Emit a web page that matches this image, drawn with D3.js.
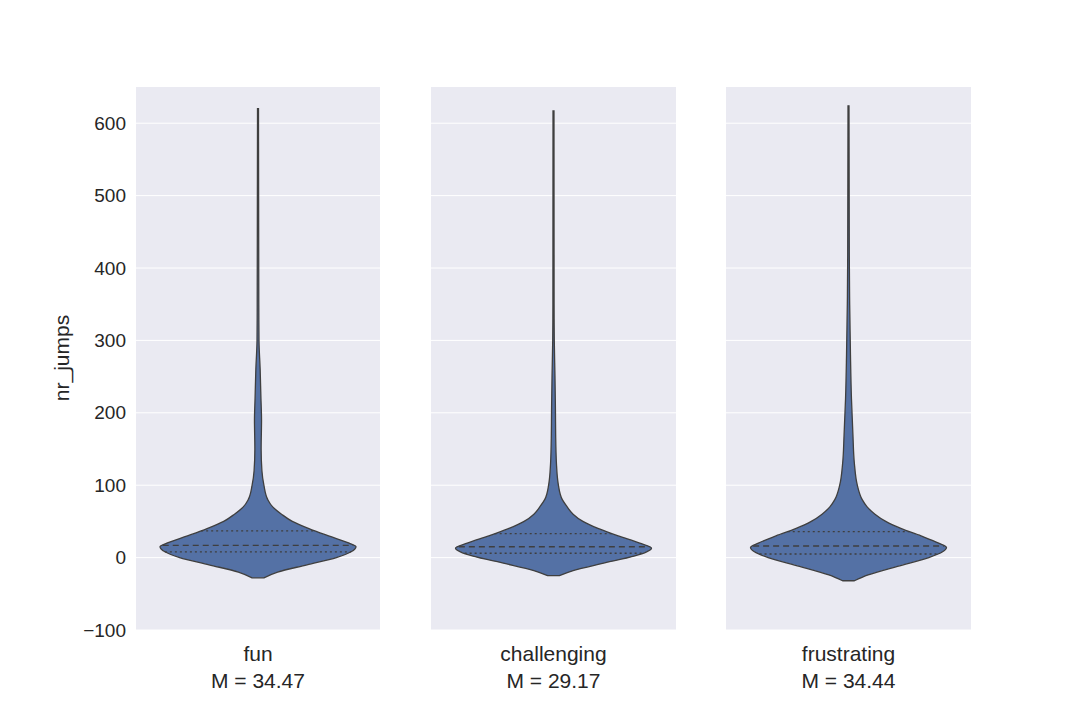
<!DOCTYPE html>
<html><head><meta charset="utf-8">
<script src="https://cdn.jsdelivr.net/npm/d3@7"></script>
<style>body{margin:0;background:#fff}</style></head>
<body><svg id="c" width="1080" height="720"></svg>
<script>
const categories = ["fun","challenging","frustrating"];
const means = ["34.47","29.17","34.44"];
const yTicks = [-100,0,100,200,300,400,500,600];
// density profiles: [value, relative half-width]
const funDensity = [[-28,0.06],[-20,0.2],[-10,0.5],[0,0.8],[8,0.95],[15,1],[20,0.93],[30,0.72],[40,0.52],[50,0.35],[60,0.24],[70,0.15],[80,0.1],[100,0.06],[120,0.04],[150,0.032],[190,0.036],[220,0.03],[260,0.022],[300,0.01],[350,0.008],[620,0.005]];
const chalDensity = [[-25,0.06],[-18,0.2],[-8,0.5],[2,0.82],[8,0.95],[13,1],[20,0.88],[30,0.66],[40,0.46],[50,0.3],[60,0.2],[70,0.14],[80,0.09],[100,0.05],[130,0.03],[170,0.022],[200,0.02],[250,0.015],[300,0.008],[350,0.006],[617,0.005]];
const frusDensity = [[-32,0.06],[-24,0.2],[-12,0.5],[0,0.82],[8,0.96],[14,1],[20,0.92],[30,0.74],[40,0.54],[50,0.38],[60,0.27],[70,0.19],[80,0.14],[100,0.09],[130,0.06],[170,0.045],[220,0.03],[280,0.02],[350,0.012],[420,0.008],[624,0.005]];
const densities = [funDensity, chalDensity, frusDensity];
const quartiles = [[8,17,37],[6,15,33],[5,16,36]];

const svg = d3.select("#c");
const y = d3.scaleLinear().domain([-100,650]).range([630,87]);
const panels = [[136,380],[431,676],[726,971]];
const maxHalf = 98;
const font = "'Liberation Sans', Arial, sans-serif";

panels.forEach((p,i)=>{
  const g = svg.append("g");
  g.append("rect").attr("x",p[0]).attr("y",87).attr("width",p[1]-p[0]).attr("height",543).attr("fill","#eaeaf2");
  yTicks.forEach(t=>{
    g.append("line").attr("x1",p[0]).attr("x2",p[1]).attr("y1",y(t)).attr("y2",y(t)).attr("stroke","#fff").attr("stroke-width",1);
  });
  const cx = (p[0]+p[1])/2;
  const w = d3.scaleLinear().domain([0,1]).range([0,maxHalf]);
  const d = densities[i];
  const area = d3.area().y(e=>y(e[0])).x0(e=>cx-w(e[1])).x1(e=>cx+w(e[1])).curve(d3.curveMonotoneY);
  g.append("path").attr("d",area(d)).attr("fill","#5471a5").attr("stroke","#3f3f3f").attr("stroke-width",1.3);
  const interp = v=>{
    for(let k=0;k<d.length-1;k++){ if(v>=d[k][0]&&v<=d[k+1][0]){const t=(v-d[k][0])/(d[k+1][0]-d[k][0]);return d[k][1]+t*(d[k+1][1]-d[k][1]);} }
    return 0;
  };
  quartiles[i].forEach((q,k)=>{
    const hw = w(interp(q));
    g.append("line").attr("x1",cx-hw).attr("x2",cx+hw).attr("y1",y(q)).attr("y2",y(q))
      .attr("stroke","#3f3f3f").attr("stroke-width",1.3).attr("stroke-dasharray",k===1?"6,4":"2,3");
  });
  g.append("text").attr("x",cx).attr("y",661).attr("text-anchor","middle").attr("font-family",font).attr("font-size",21).attr("fill","#262626").text(categories[i]);
  g.append("text").attr("x",cx).attr("y",688).attr("text-anchor","middle").attr("font-family",font).attr("font-size",21).attr("fill","#262626").text("M = "+means[i]);
});
const ax = d3.axisLeft(y).tickValues(yTicks).tickSize(0).tickPadding(10).tickFormat(t=>t<0?"\u2212"+Math.abs(t):t);
const ag = svg.append("g").attr("transform","translate(136,0)").call(ax);
ag.select(".domain").remove();
ag.selectAll("text").attr("font-family",font).attr("font-size",19).attr("fill","#262626");
svg.append("text").attr("transform","translate(69,358) rotate(-90)").attr("text-anchor","middle").attr("font-family",font).attr("font-size",21).attr("fill","#262626").text("nr_jumps");
</script></body></html>
